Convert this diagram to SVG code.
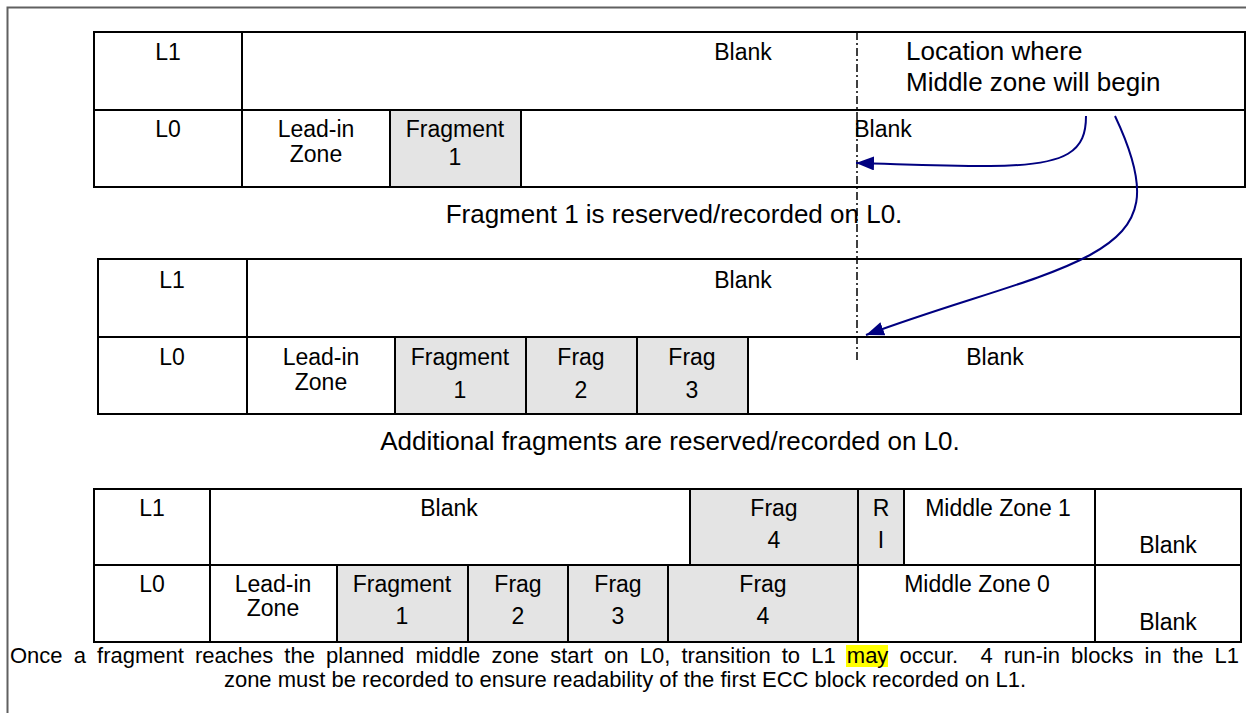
<svg xmlns="http://www.w3.org/2000/svg" width="1246" height="713" viewBox="0 0 1246 713">
<style>
text{font-family:"Liberation Sans",Arial,sans-serif;font-size:23px;fill:#000}
.c{text-anchor:middle}
.big{font-size:26px}
.cap{font-size:26px;text-anchor:middle}
.foot{font-size:22px}
.cell{fill:none;stroke:#000;stroke-width:2}
.ln{stroke:#000;stroke-width:2;fill:none}
.gray{fill:#e4e4e4}
.arrow{fill:none;stroke:#000080;stroke-width:2}
</style>
<defs>
<marker id="ah" markerUnits="userSpaceOnUse" markerWidth="20" markerHeight="16" refX="18" refY="7" orient="auto">
<path d="M0,0 L18,7 L0,14 z" fill="#000080"/>
</marker>
</defs>
<rect width="1246" height="713" fill="#fff"/>
<rect x="7.5" y="7.5" width="1260" height="730" fill="none" stroke="#606060" stroke-width="2"/>

<g id="table1">
<rect class="gray" x="390" y="110" width="131" height="77"/>
<rect class="cell" x="94" y="32" width="1151" height="155"/>
<line class="ln" x1="94" y1="110" x2="1245" y2="110"/>
<line class="ln" x1="242" y1="32" x2="242" y2="187"/>
<line class="ln" x1="390" y1="110" x2="390" y2="187"/>
<line class="ln" x1="521" y1="110" x2="521" y2="187"/>
<text class="c" x="168" y="60">L1</text>
<text class="c" x="743" y="60">Blank</text>
<text class="big" x="906" y="60">Location where</text>
<text class="big" x="906" y="91">Middle zone will begin</text>
<text class="c" x="168" y="137">L0</text>
<text class="c" x="316" y="137">Lead-in</text>
<text class="c" x="316" y="162">Zone</text>
<text class="c" x="455" y="137">Fragment</text>
<text class="c" x="455" y="165">1</text>
<text class="c" x="883" y="137">Blank</text>
</g>

<g id="caption1"><text class="cap" x="674" y="223">Fragment 1 is reserved/recorded on L0.</text></g>

<g id="table2">
<rect class="gray" x="395" y="337" width="353" height="77"/>
<rect class="cell" x="98" y="259" width="1143" height="155"/>
<line class="ln" x1="98" y1="337" x2="1241" y2="337"/>
<line class="ln" x1="247" y1="259" x2="247" y2="414"/>
<line class="ln" x1="395" y1="337" x2="395" y2="414"/>
<line class="ln" x1="526" y1="337" x2="526" y2="414"/>
<line class="ln" x1="637" y1="337" x2="637" y2="414"/>
<line class="ln" x1="748" y1="337" x2="748" y2="414"/>
<text class="c" x="172" y="288">L1</text>
<text class="c" x="743" y="288">Blank</text>
<text class="c" x="172" y="365">L0</text>
<text class="c" x="321" y="365">Lead-in</text>
<text class="c" x="321" y="390">Zone</text>
<text class="c" x="460" y="365">Fragment</text>
<text class="c" x="460" y="398">1</text>
<text class="c" x="581" y="365">Frag</text>
<text class="c" x="581" y="398">2</text>
<text class="c" x="692" y="365">Frag</text>
<text class="c" x="692" y="398">3</text>
<text class="c" x="995" y="365">Blank</text>
</g>

<g id="caption2"><text class="cap" x="670" y="450">Additional fragments are reserved/recorded on L0.</text></g>

<g id="table3">
<rect class="gray" x="690" y="489" width="214" height="76"/>
<rect class="gray" x="337" y="565" width="521" height="77"/>
<rect class="cell" x="94" y="489" width="1147" height="153"/>
<line class="ln" x1="94" y1="565" x2="1241" y2="565"/>
<line class="ln" x1="210" y1="489" x2="210" y2="642"/>
<line class="ln" x1="858" y1="489" x2="858" y2="642"/>
<line class="ln" x1="1095" y1="489" x2="1095" y2="642"/>
<line class="ln" x1="690" y1="489" x2="690" y2="565"/>
<line class="ln" x1="904" y1="489" x2="904" y2="565"/>
<line class="ln" x1="337" y1="565" x2="337" y2="642"/>
<line class="ln" x1="468" y1="565" x2="468" y2="642"/>
<line class="ln" x1="568" y1="565" x2="568" y2="642"/>
<line class="ln" x1="668" y1="565" x2="668" y2="642"/>
<text class="c" x="152" y="516">L1</text>
<text class="c" x="449" y="516">Blank</text>
<text class="c" x="774" y="516">Frag</text>
<text class="c" x="774" y="548">4</text>
<text class="c" x="881" y="516">R</text>
<text class="c" x="881" y="548">I</text>
<text class="c" x="998" y="516">Middle Zone 1</text>
<text class="c" x="1168" y="553">Blank</text>
<text class="c" x="152" y="592">L0</text>
<text class="c" x="273" y="592">Lead-in</text>
<text class="c" x="273" y="616">Zone</text>
<text class="c" x="402" y="592">Fragment</text>
<text class="c" x="402" y="624">1</text>
<text class="c" x="518" y="592">Frag</text>
<text class="c" x="518" y="624">2</text>
<text class="c" x="618" y="592">Frag</text>
<text class="c" x="618" y="624">3</text>
<text class="c" x="763" y="592">Frag</text>
<text class="c" x="763" y="624">4</text>
<text class="c" x="977" y="592">Middle Zone 0</text>
<text class="c" x="1168" y="630">Blank</text>
</g>

<g id="caption3">
<rect x="846" y="645" width="42" height="22" fill="#ffff00"/>
<text class="foot" x="10" y="663" style="white-space:pre;word-spacing:5px">Once a fragment reaches the planned middle zone start on L0, transition to L1 may occur.  4 run-in blocks in the L1</text>
<text class="foot c" x="625" y="687">zone must be recorded to ensure readability of the first ECC block recorded on L1.</text>
</g>

<g id="connectors">
<line x1="857" y1="32" x2="857" y2="362" stroke="#000" stroke-width="1.5" stroke-dasharray="8,3,2,3"/>
<path class="arrow" d="M1086,116 C1086,150 1070,166 990,166 C930,166 900,164 856,163" marker-end="url(#ah)"/>
<path class="arrow" d="M1115,116 C1150,190 1145,225 1090,255 C1040,282 960,300 866,335" marker-end="url(#ah)"/>
</g>
</svg>
